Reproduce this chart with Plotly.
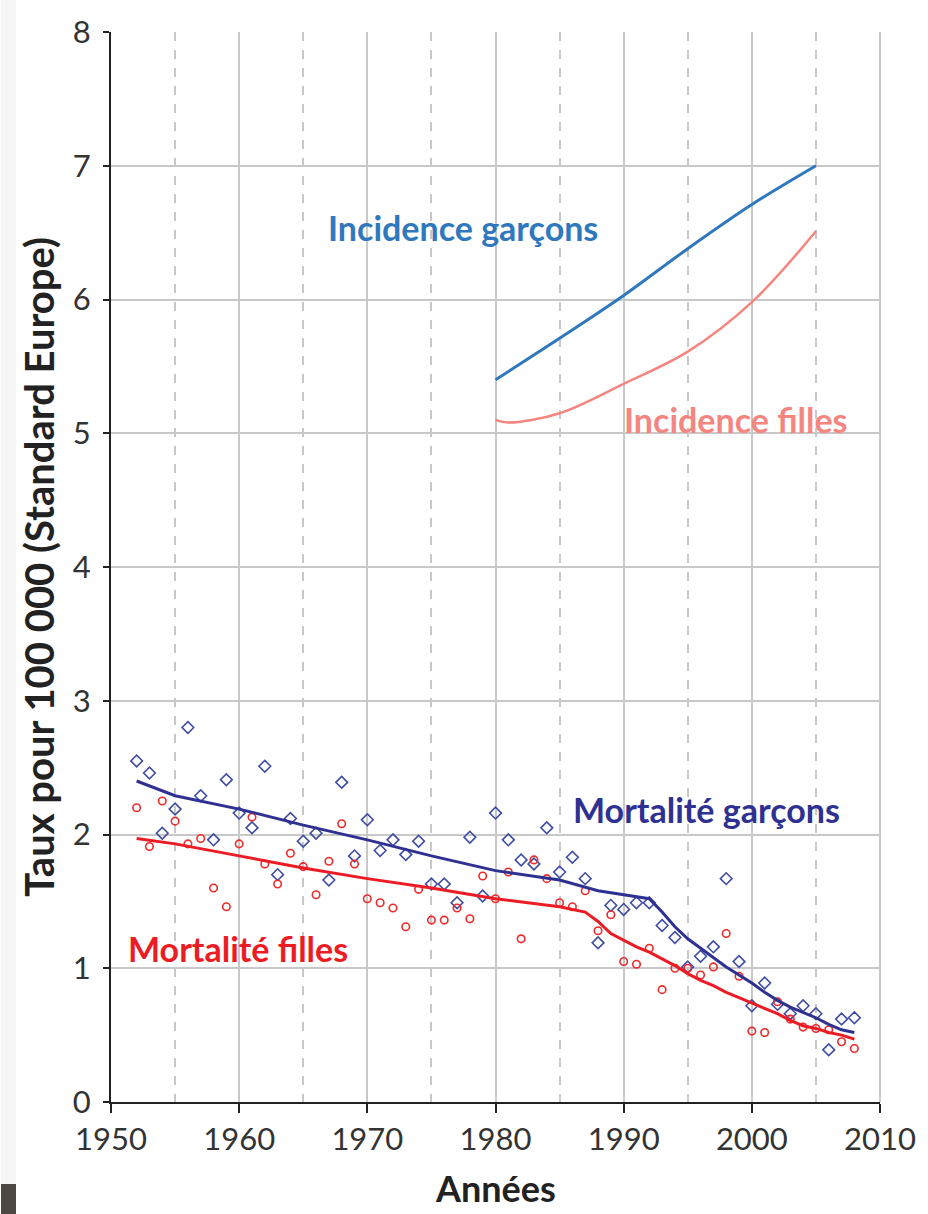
import plotly.graph_objects as go

# ---- data ----
years_obs = list(range(1952, 2009))
mort_garcons = [2.55, 2.46, 2.01, 2.19, 2.80, 2.29, 1.96, 2.41, 2.16, 2.05,
                2.51, 1.70, 2.12, 1.95, 2.01, 1.66, 2.39, 1.84, 2.11, 1.88,
                1.96, 1.85, 1.95, 1.63, 1.63, 1.49, 1.98, 1.54, 2.16, 1.96,
                1.81, 1.78, 2.05, 1.72, 1.83, 1.67, 1.19, 1.47, 1.44, 1.49,
                1.49, 1.32, 1.23, 1.01, 1.09, 1.16, 1.67, 1.05, 0.72, 0.89,
                0.73, 0.66, 0.72, 0.66, 0.39, 0.62, 0.63]
mort_filles = [2.20, 1.91, 2.25, 2.10, 1.93, 1.97, 1.60, 1.46, 1.93, 2.13,
               1.78, 1.63, 1.86, 1.76, 1.55, 1.80, 2.08, 1.78, 1.52, 1.49,
               1.45, 1.31, 1.59, 1.36, 1.36, 1.45, 1.37, 1.69, 1.52, 1.72,
               1.22, 1.81, 1.67, 1.49, 1.46, 1.58, 1.28, 1.40, 1.05, 1.03,
               1.15, 0.84, 1.00, 1.00, 0.95, 1.01, 1.26, 0.94, 0.53, 0.52,
               0.75, 0.62, 0.56, 0.55, 0.54, 0.45, 0.40]

trend_g_years = [1952, 1955, 1960, 1965, 1970, 1975, 1980, 1985, 1988, 1990,
                 1992, 1993, 1994, 1995, 1996, 1997, 1998, 1999, 2000, 2001,
                 2002, 2003, 2004, 2005, 2006, 2007, 2008]
trend_g = [2.40, 2.29, 2.19, 2.07, 1.96, 1.84, 1.73, 1.66, 1.58, 1.55,
           1.52, 1.42, 1.31, 1.22, 1.15, 1.08, 1.01, 0.95, 0.89, 0.82,
           0.76, 0.71, 0.67, 0.63, 0.58, 0.54, 0.52]

trend_f_years = [1952, 1955, 1960, 1965, 1970, 1975, 1980, 1985, 1987, 1988,
                 1989, 1990, 1991, 1992, 1993, 1994, 1995, 1996, 1997, 1998,
                 1999, 2000, 2001, 2002, 2003, 2004, 2005, 2006, 2007, 2008]
trend_f = [1.97, 1.93, 1.84, 1.75, 1.67, 1.60, 1.52, 1.46, 1.42, 1.35,
           1.26, 1.21, 1.16, 1.12, 1.07, 1.02, 0.96, 0.91, 0.87, 0.82,
           0.78, 0.74, 0.70, 0.66, 0.61, 0.57, 0.55, 0.52, 0.50, 0.47]

inc_years = [1980, 1985, 1990, 1995, 2000, 2005]
inc_garcons = [5.40, 5.71, 6.03, 6.38, 6.71, 7.00]
inc_f_years = [1980, 1981, 1985, 1990, 1995, 2000, 2005]
inc_filles = [5.10, 5.08, 5.15, 5.37, 5.61, 5.98, 6.51]

x_ticks = [1950, 1960, 1970, 1980, 1990, 2000, 2010]
y_ticks = [0, 1, 2, 3, 4, 5, 6, 7, 8]

# ---- colours ----
C_INC_G = "#2F78BE"
C_INC_F = "#F4857F"
C_MORT_G = "#2E3192"
C_MORT_F = "#ED1C24"
C_PT_G = "#3F4DA3"
C_PT_F = "#EE2B2B"
GRID = "#C8C8C8"
FONT = "Lato"

fig = go.Figure()
fig.add_trace(go.Scatter(x=years_obs, y=mort_garcons, mode="markers",
                         marker=dict(symbol="diamond-open", size=9, color=C_PT_G,
                                     line=dict(width=1.6, color=C_PT_G)),
                         showlegend=False))
fig.add_trace(go.Scatter(x=years_obs, y=mort_filles, mode="markers",
                         marker=dict(symbol="circle-open", size=7.5, color=C_PT_F,
                                     line=dict(width=1.6, color=C_PT_F)),
                         showlegend=False))
fig.add_trace(go.Scatter(x=trend_g_years, y=trend_g, mode="lines",
                         line=dict(color=C_MORT_G, width=3), showlegend=False))
fig.add_trace(go.Scatter(x=trend_f_years, y=trend_f, mode="lines",
                         line=dict(color=C_MORT_F, width=3), showlegend=False))
fig.add_trace(go.Scatter(x=inc_years, y=inc_garcons, mode="lines",
                         line=dict(color=C_INC_G, width=3, shape="spline"),
                         showlegend=False))
fig.add_trace(go.Scatter(x=inc_f_years, y=inc_filles, mode="lines",
                         line=dict(color=C_INC_F, width=2.5, shape="spline"),
                         showlegend=False))

lab_font = dict(family=FONT, size=34)
annos = [
    dict(x=1977.5, y=6.54, text="<b>Incidence garçons</b>", font=dict(lab_font, color=C_INC_G)),
    dict(x=1998.8, y=5.10, text="<b>Incidence filles</b>", font=dict(lab_font, color=C_INC_F)),
    dict(x=1996.5, y=2.19, text="<b>Mortalité garçons</b>", font=dict(lab_font, color=C_MORT_G)),
    dict(x=1959.9, y=1.15, text="<b>Mortalité filles</b>", font=dict(lab_font, color=C_MORT_F)),
]
for a in annos:
    fig.add_annotation(xref="x", yref="y", showarrow=False, xanchor="center",
                       yanchor="middle", **a)

# axis titles
fig.add_annotation(xref="paper", yref="paper", x=0.5, y=-0.080, yanchor="middle",
                   text="<b>Années</b>", showarrow=False,
                   font=dict(family=FONT, size=36, color="#222222"))
fig.add_annotation(xref="paper", yref="paper", x=-0.094, y=0.5, xanchor="center",
                   yanchor="middle", textangle=-90,
                   text="<b>Taux pour 100 000 (Standard Europe)</b>", showarrow=False,
                   font=dict(family=FONT, size=40, color="#222222"))

# cropped edge of the original page
fig.add_annotation(xref="paper", yref="paper", x=-0.1428, y=0.5, xanchor="left",
                   yanchor="middle", text=" ", showarrow=False, width=15, height=1300,
                   bgcolor="#F6F6F6", borderpad=0, borderwidth=0)
fig.add_annotation(xref="paper", yref="paper", x=-0.1428, y=-0.0765, xanchor="left",
                   yanchor="top", text=" ", showarrow=False, width=15, height=40,
                   bgcolor="#4D4843", borderpad=0, borderwidth=0)

fig.update_xaxes(range=[1950, 2010], tickvals=x_ticks, ticktext=[str(v) for v in x_ticks],
                 showgrid=True, gridcolor=GRID, gridwidth=1.5,
                 minor=dict(dtick=5, tick0=1955, showgrid=True, gridcolor=GRID,
                            griddash="dash", gridwidth=1.5, ticks=""),
                 showline=True, linecolor="#222222", linewidth=2,
                 ticks="outside", ticklen=9, tickwidth=2, tickcolor="#222222",
                 tickfont=dict(family=FONT, size=31, color="#333333"),
                 zeroline=False, fixedrange=True)
fig.update_yaxes(range=[0, 8], tickvals=y_ticks,
                 showgrid=True, gridcolor=GRID, gridwidth=1.5,
                 showline=True, linecolor="#222222", linewidth=2,
                 ticks="outside", ticklen=6, tickwidth=2, tickcolor="#222222",
                 tickfont=dict(family=FONT, size=31, color="#333333"),
                 ticklabelstandoff=6,
                 zeroline=False, fixedrange=True)

# right border of plot area
fig.add_shape(type="line", xref="paper", yref="paper", x0=1, x1=1, y0=0, y1=1,
              line=dict(color=GRID, width=2))

fig.update_layout(width=928, height=1214,
                  margin=dict(l=110.5, r=43.5, t=30, b=112),
                  paper_bgcolor="white", plot_bgcolor="white",
                  font=dict(family=FONT))

fig.write_html("out.html", config={"displayModeBar": False})
